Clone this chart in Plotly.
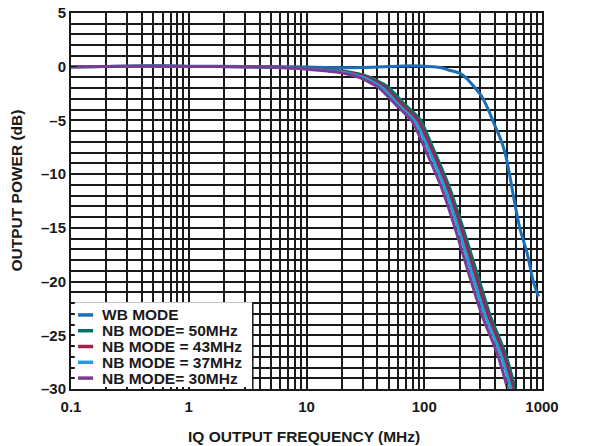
import plotly.graph_objects as go

## frequency (MHz) / output power (dB)
wb_f = [0.1, 0.3, 0.5, 1, 3, 6, 10, 20, 30, 45, 60, 80, 100, 120, 140, 160, 200, 230, 262, 309, 350, 388, 440, 485, 530, 573, 654, 746, 843, 935]
wb_db = [0, 0.05, 0.08, 0.05, 0.03, 0, -0.02, -0.1, -0.08, 0.0, 0.05, 0.1, 0.05, 0.0, -0.1, -0.3, -0.6, -1.1, -1.8, -2.8, -4.0, -5.2, -6.6, -8.0, -10.0, -12.1, -15.2, -17.3, -20.0, -21.4]

nb50_f = [0.1, 0.4, 1, 3, 5, 9, 15, 21, 33, 48, 67, 92, 120, 166, 216, 290, 364, 485, 594, 640]
nb50_db = [0, 0.05, 0.03, 0, -0.03, -0.12, -0.28, -0.43, -0.9, -1.8, -3.4, -4.9, -7.7, -11.4, -15.2, -19.7, -23.2, -26.6, -30.0, -31.5]

nb43_f = [0.1, 0.4, 1, 3, 5, 9, 15, 20, 32, 46, 64, 88, 115, 159, 207, 278, 349, 465, 570, 615]
nb43_db = [0, 0.05, 0.03, 0, -0.04, -0.14, -0.31, -0.45, -0.95, -1.9, -3.5, -5.0, -7.7, -11.4, -15.2, -19.8, -23.2, -26.6, -30.0, -31.5]

nb37_f = [0.1, 0.4, 1, 3, 5, 9, 15, 19, 30, 44, 61, 84, 110, 152, 198, 265, 333, 444, 545, 590]
nb37_db = [0, 0.05, 0.03, 0, -0.05, -0.16, -0.35, -0.46, -0.98, -1.95, -3.6, -5.1, -7.8, -11.5, -15.3, -19.9, -23.3, -26.7, -30.0, -31.5]

nb30_f = [0.1, 0.4, 1, 3, 5, 9, 15, 18, 28, 41, 58, 79, 103, 143, 186, 249, 313, 417, 511, 555]
nb30_db = [0, 0.05, 0.03, 0, -0.06, -0.18, -0.4, -0.5, -1.0, -1.95, -3.6, -5.1, -7.8, -11.5, -15.3, -19.9, -23.3, -26.7, -30.0, -31.5]

names = ["WB MODE", "NB MODE= 50MHz", "NB MODE = 43MHz", "NB MODE = 37MHz", "NB MODE= 30MHz"]
colors = ["#1a6fb8", "#00736b", "#a3204d", "#14a3dc", "#7a3b93"]

x_major = [0.1, 1, 10, 100, 1000]
x_labels = ["0.1", "1", "10", "100", "1000"]
x_minor = [m * d for d in [0.1, 1, 10, 100] for m in range(2, 10)]
y_major = [5, 0, -5, -10, -15, -20, -25, -30]
y_labels = ["5", "0", "–5", "–10", "–15", "–20", "–25", "–30"]

font = "Liberation Sans, Arial, sans-serif"
ink = "#1a1a1a"

fig = go.Figure()
for name, f, db, col in zip(names, [wb_f, nb50_f, nb43_f, nb37_f, nb30_f],
                            [wb_db, nb50_db, nb43_db, nb37_db, nb30_db], colors):
    fig.add_trace(go.Scatter(x=f, y=db, name=name, mode="lines", showlegend=False,
                             line=dict(color=col, width=3, shape="spline", smoothing=0.6)))

fig.update_xaxes(type="log", range=[-1, 3], tickvals=x_major, ticktext=x_labels, automargin=False,
                 showgrid=True, gridcolor=ink, gridwidth=2.2, ticklabeloverflow="allow",
                 minor=dict(tickvals=x_minor, showgrid=True, gridcolor=ink, gridwidth=1.6,
                            ticks="inside", ticklen=5, tickcolor=ink),
                 ticks="inside", ticklen=6, tickcolor=ink, ticklabelstandoff=3,
                 showline=True, linecolor=ink, linewidth=2, mirror=True, zeroline=False,
                 tickfont=dict(family=font, size=15, color=ink, weight="bold"))
fig.update_yaxes(range=[-30, 5], tickvals=y_major, ticktext=y_labels, automargin=False,
                 showgrid=True, gridcolor=ink, gridwidth=1.8, ticklabeloverflow="allow",
                 minor=dict(dtick=1, showgrid=True, gridcolor=ink, gridwidth=1.6,
                            ticks="inside", ticklen=5, tickcolor=ink),
                 ticks="inside", ticklen=6, tickcolor=ink,
                 showline=True, linecolor=ink, linewidth=2, mirror=True, zeroline=False,
                 tickfont=dict(family=font, size=15, color=ink, weight="bold"))

## axis titles as annotations, for exact placement
title_font = dict(family=font, size=15.5, color=ink, weight="bold")
fig.add_annotation(text="IQ OUTPUT FREQUENCY (MHz)", xref="paper", yref="paper", x=0.495, y=-0.125,
                   xanchor="center", yanchor="middle", showarrow=False, font=title_font)
fig.add_annotation(text="OUTPUT POWER (dB)", xref="paper", yref="paper", x=-0.116, y=0.529,
                   xanchor="center", yanchor="middle", showarrow=False, textangle=-90, font=title_font)

## legend box drawn by hand so the rows can sit close together
fig.add_shape(type="rect", xref="paper", yref="paper", x0=0.008, x1=0.386, y0=0.005, y1=0.231,
              fillcolor="white", line=dict(width=0), layer="above")
fig.add_shape(type="line", xref="paper", yref="paper", x0=0.386, x1=0.386, y0=0.0, y1=0.231,
              line=dict(color=ink, width=1.5), layer="above")
row_y = [0.197, 0.155, 0.113, 0.071, 0.029]
for name, col, yy in zip(names, colors, row_y):
    fig.add_shape(type="line", xref="paper", yref="paper", x0=0.015, x1=0.047, y0=yy, y1=yy,
                  line=dict(color=col, width=3.5), layer="above")
    fig.add_annotation(text=name, xref="paper", yref="paper", x=0.062, y=yy, height=15,
                       xanchor="left", yanchor="middle", showarrow=False,
                       font=dict(family=font, size=15.5, color=ink, weight="bold"))

## page body has an 8px margin, so the figure is 8px smaller and shifted
fig.update_layout(
    width=581, height=438,
    margin=dict(l=63, r=47, t=5, b=57),
    plot_bgcolor="white", paper_bgcolor="white",
    showlegend=False,
)
fig.add_annotation(text="043", x=1.091, y=-0.104, xref="paper", yref="paper",
                   xanchor="center", yanchor="middle", showarrow=False, textangle=-90,
                   font=dict(family=font, size=8, color="#555555"))

fig.write_html("out.html")
